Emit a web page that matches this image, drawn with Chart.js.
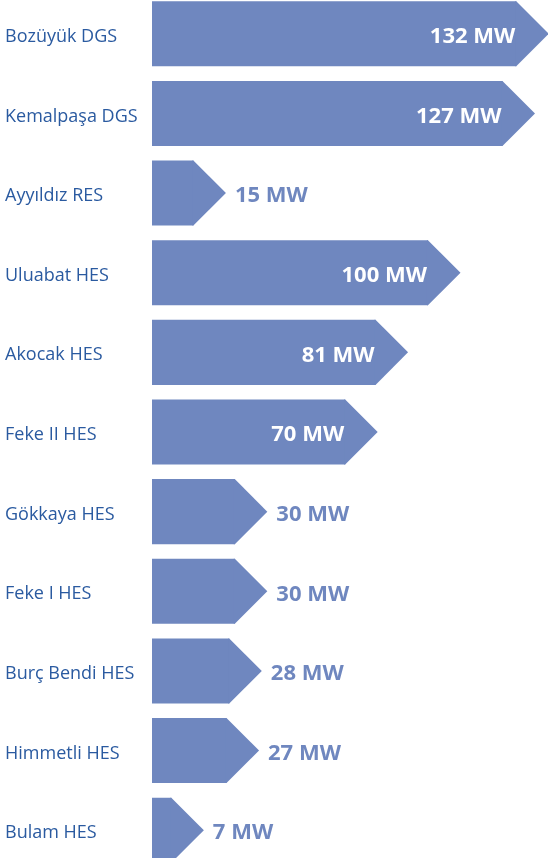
<!DOCTYPE html>
<html>
<head>
<meta charset="utf-8">
<script src="https://cdn.jsdelivr.net/npm/chart.js@4.4.0/dist/chart.umd.min.js"></script>
<style>
    html, body { margin: 0; padding: 0; background: #fff; }
    body { width: 548px; height: 858px; overflow: hidden; position: relative; }
    #wrap { width: 548px; height: 876px; position: absolute; left: 0; top: -6px; }
</style>
</head>
<body>
<div id="wrap"><canvas id="plants"></canvas></div>
<script>
    // Data
    var plantNames = ["Bozüyük DGS", "Kemalpaşa DGS", "Ayyıldız RES", "Uluabat HES", "Akocak HES",
        "Feke II HES", "Gökkaya HES", "Feke I HES", "Burç Bendi HES", "Himmetli HES", "Bulam HES"];
    var capacityMW = [132, 127, 15, 100, 81, 70, 30, 30, 28, 27, 7];

    var barColor = "#6f87bf";
    var labelColor = "#2a5aa0";

    // Arrow heads + value labels
    var arrowPlugin = {
        id: "arrowTips",
        afterDatasetsDraw: function (chart) {
            var ctx = chart.ctx;
            var meta = chart.getDatasetMeta(0);
            ctx.save();
            meta.data.forEach(function (bar, i) {
                var p = bar.getProps(["x", "y", "height"], true);
                var h = p.height;
                ctx.fillStyle = barColor;
                ctx.beginPath();
                ctx.moveTo(p.x - 1, p.y - h / 2);
                ctx.lineTo(p.x, p.y - h / 2);
                ctx.lineTo(p.x + h / 2, p.y);
                ctx.lineTo(p.x, p.y + h / 2);
                ctx.lineTo(p.x - 1, p.y + h / 2);
                ctx.closePath();
                ctx.fill();

                var txt = capacityMW[i] + " MW";
                ctx.font = "bold 22px 'Open Sans', sans-serif";
                ctx.textBaseline = "middle";
                if (capacityMW[i] >= 50) {
                    ctx.fillStyle = "#ffffff";
                    ctx.textAlign = "right";
                    ctx.fillText(txt, p.x - 1, p.y + 3);
                } else {
                    ctx.fillStyle = barColor;
                    ctx.textAlign = "left";
                    ctx.fillText(txt, p.x + h / 2 + 9, p.y + 3);
                }
            });
            ctx.restore();
        }
    };

    var ctx = document.getElementById("plants").getContext("2d");
    var myChart = new Chart(ctx, {
        type: "bar",
        data: {
            labels: plantNames,
            datasets: [{
                data: capacityMW,
                backgroundColor: barColor,
                borderWidth: 0,
                categoryPercentage: 1,
                barPercentage: 0.817
            }]
        },
        options: {
            indexAxis: "y",
            responsive: true,
            maintainAspectRatio: false,
            animation: false,
            layout: { padding: { left: 5, right: 0, top: 0, bottom: 0 } },
            plugins: {
                legend: { display: false },
                tooltip: { enabled: false }
            },
            scales: {
                x: {
                    display: false,
                    min: 0,
                    max: 143.5
                },
                y: {
                    afterFit: function (scale) {
                        scale.width = 147;
                        scale.paddingTop = 0;
                        scale.paddingBottom = 0;
                    },
                    grid: { display: false },
                    border: { display: false },
                    ticks: {
                        crossAlign: "far",
                        labelOffset: 3,
                        color: labelColor,
                        font: { family: "'Open Sans', sans-serif", size: 18 }
                    }
                }
            }
        },
        plugins: [arrowPlugin]
    });
</script>
</body>
</html>
